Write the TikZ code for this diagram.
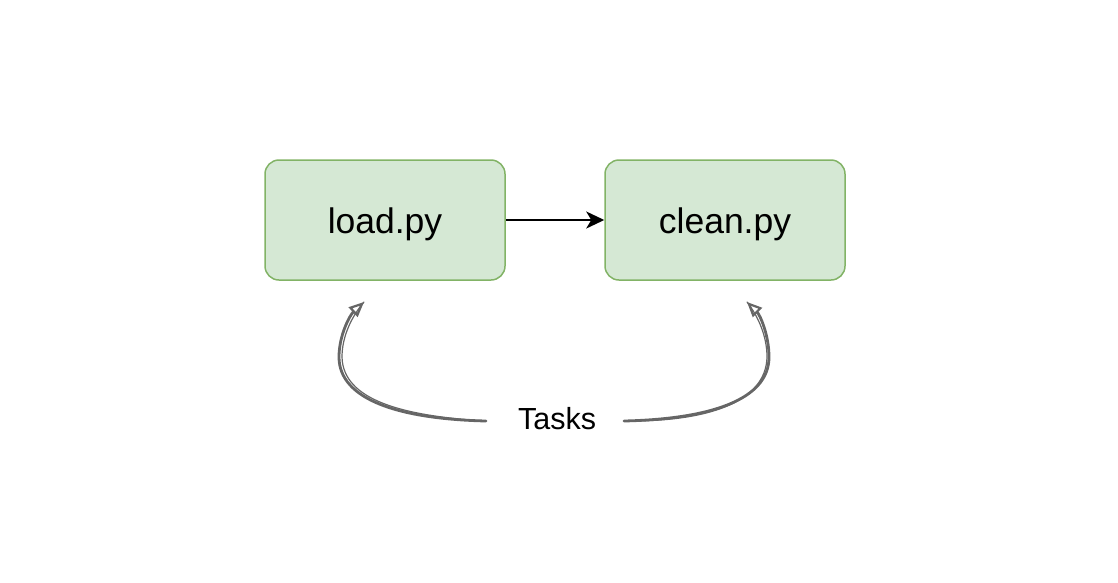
\documentclass[tikz,border=0pt]{standalone}
\usepackage{fontspec}
\setmainfont{Liberation Sans}
\usetikzlibrary{arrows.meta}
\definecolor{boxfill}{HTML}{D5E8D4}
\definecolor{boxline}{HTML}{82B366}
\definecolor{sketch}{HTML}{666666}
\tikzset{
  taskbox/.style={draw=boxline, fill=boxfill, line width=1.5pt, rounded corners=14pt,
    minimum width=240pt, minimum height=120pt, inner sep=0pt,
    text height=26pt, text depth=0pt,
    font=\fontsize{35.5}{40}\selectfont},
  flow/.style={draw=black, line width=2pt, -{Stealth[length=18pt,width=17pt,inset=5pt]}},
  sketchy/.style={draw=sketch, line width=2.8pt, line cap=round,
    -{Triangle[open, length=15pt, width=13pt, line width=2.2pt]}},
  sketchthin/.style={draw=sketch, line width=1.2pt, line cap=round},
  label/.style={font=\fontsize{30.5}{36}\selectfont, inner sep=0pt}
}
\begin{document}
\begin{tikzpicture}[x=1pt,y=-1pt]
\useasboundingbox (0,0) rectangle (1118,582);
\node[taskbox] (load) at (385,220) {load.py};
\node[taskbox] (clean) at (725,220) {clean.py};
\node[label] (tasks) at (557,419) {Tasks};
\draw[flow] (load.east) -- (clean.west);
\coordinate (ls) at (486,421);
\coordinate (lt) at (364,302);
\coordinate (rs) at (624,421);
\coordinate (rt) at (747,302);
\draw[sketchy] (ls) .. controls (400,419) and (339,400) .. (339,357)
  .. controls (339,335) and (350,315) .. (lt);
\draw[sketchthin] (ls) .. controls (402,416) and (343,400) .. (342,357)
  .. controls (342,336) and (352,316) .. (lt);
\draw[sketchy] (rs) .. controls (710,419) and (769,400) .. (769,357)
  .. controls (769,335) and (760,315) .. (rt);
\draw[sketchthin] (rs) .. controls (708,422) and (766,402) .. (767,357)
  .. controls (767,336) and (758,316) .. (rt);
\end{tikzpicture}
\end{document}
